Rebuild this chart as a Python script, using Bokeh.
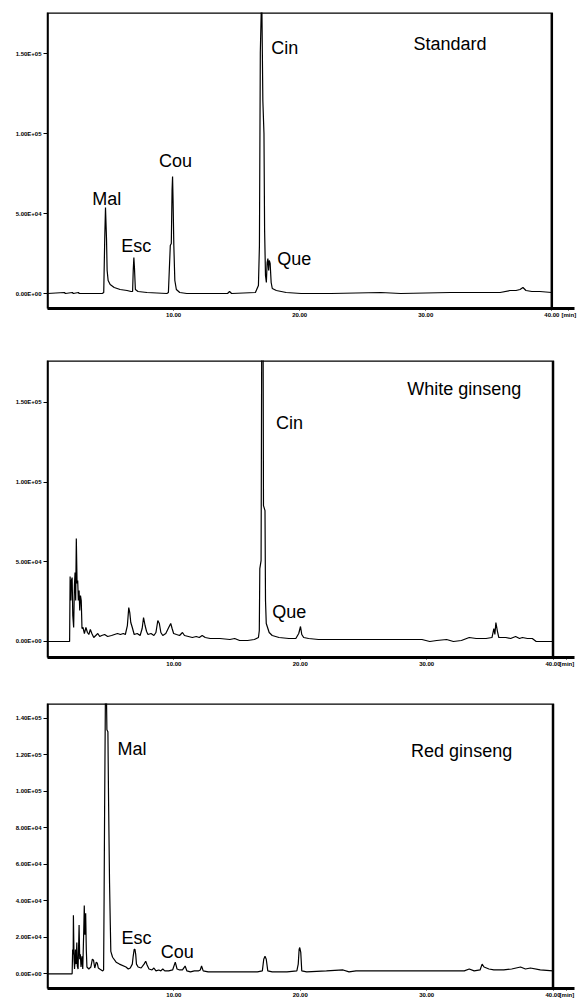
from bokeh.plotting import figure
from bokeh.layouts import column
from bokeh.models import Range1d, FixedTicker, Label, ColumnDataSource, BoxAnnotation
from bokeh.embed import file_html
from bokeh.resources import INLINE

# ---------------- data (time in min, signal) ----------------
std_time = [0.00, 1.34, 1.42, 1.97, 2.05, 2.45, 2.52, 4.34, 4.46, 4.54, 4.60, 4.68, 4.73, 4.81, 4.97,
            5.29, 5.76, 6.31, 6.63, 6.75, 6.80, 6.85, 6.90, 6.97, 7.18, 7.89, 9.47, 9.59, 9.66, 9.74,
            9.82, 9.88, 9.92, 9.96, 10.02, 10.10, 10.22, 10.49, 11.05, 14.28, 14.44, 14.60, 16.49,
            16.73, 16.81, 16.88, 16.99, 17.08, 17.17, 17.22, 17.29, 17.36, 17.42, 17.48, 17.54, 17.59,
            17.66, 17.74, 17.83, 18.15, 18.93, 20.12, 22.49, 26.43, 28.01, 31.95, 35.90, 36.69, 37.16,
            37.48, 37.71, 37.95, 38.42, 39.05, 40.00]
std_signal = [0, 625, 0, 625, 0, 625, 0, 0, 625, 34375, 53750, 34375, 14375, 8125, 5625,
              3750, 2500, 1875, 1250, 1250, 14375, 22500, 15625, 2500, 1250, 625, 0, 625, 14375, 30000,
              31250, 64375, 73125, 58125, 30000, 8125, 2500, 625, 0, 0, 1250, 0, 625,
              5000, 30000, 150625, 190000, 120625, 100000, 39375, 11250, 6875, 19375, 21875, 14375, 20625,
              18750, 6875, 3125, 1875, 625, 0, 0, 625, 0, 625, 625, 1875, 1875,
              2500, 3750, 1875, 1250, 1250, 625]

white_time = [0.00, 1.75, 1.79, 1.85, 1.89, 1.95, 2.00, 2.07, 2.13, 2.18, 2.23, 2.28, 2.34, 2.39, 2.44,
              2.50, 2.55, 2.61, 2.67, 2.73, 2.81, 2.92, 3.04, 3.16, 3.27, 3.39, 3.51, 3.66, 3.82, 3.98,
              4.13, 4.29, 4.52, 4.76, 5.07, 5.30, 5.54, 5.77, 6.00, 6.16, 6.32, 6.43, 6.51, 6.59, 6.71,
              6.86, 7.10, 7.33, 7.49, 7.60, 7.72, 7.84, 7.95, 8.19, 8.42, 8.58, 8.73, 8.85, 8.97, 9.12,
              9.36, 9.59, 9.75, 9.86, 9.98, 10.21, 10.45, 10.68, 10.84, 11.15, 11.46, 11.77, 12.01, 12.24,
              12.48, 12.87, 13.65, 14.43, 14.81, 15.20, 15.83, 16.37, 16.69, 16.76, 16.80, 16.90, 16.96,
              17.06, 17.09, 17.21, 17.25, 17.31, 17.54, 17.78, 18.32, 19.10, 19.65, 19.88, 20.02, 20.12,
              20.27, 20.66, 21.44, 23.78, 27.68, 29.63, 30.25, 30.80, 31.58, 32.12, 32.75, 33.37, 33.92,
              34.70, 35.17, 35.32, 35.40, 35.48, 35.59, 35.71, 36.26, 36.65, 37.04, 37.35, 37.58, 37.97,
              38.36, 38.67, 40.00]
white_signal = [0, 0, 40755, 25707, 38247, 40128, 16302, 8778, 35112, 43263, 25707, 64581, 36366, 38247, 25707,
                31977, 19437, 28842, 25707, 8151, 8778, 5016, 8778, 5643, 4389, 7524, 5016, 2508, 3762, 5016,
                3135, 3762, 4389, 3135, 3762, 4389, 5016, 4389, 5016, 4389, 10032, 21318, 18183, 11913, 8778,
                4389, 5016, 3762, 8151, 15048, 10032, 6270, 4389, 5016, 3762, 5643, 13167, 11286, 5643, 3762,
                5016, 8778, 11286, 8151, 5016, 4389, 3762, 5643, 3762, 3135, 2508, 3135, 2508, 3762,
                2508, 1881, 1881, 1254, 1881, 627, 627, 1254, 2508, 6897, 45771, 50787, 213807,
                188727, 85272, 82137, 25707, 11286, 5643, 3762, 2508, 1881, 1881, 5016, 9405, 4389,
                2508, 1881, 1254, 1254, 1254, 1254, 0, 627, 1254, 0, 627, 2508, 1881,
                1881, 2508, 8151, 4389, 11913, 6897, 2508, 2508, 1881, 3135, 1881, 2508, 1881,
                1881, 0, 0]

red_time = [0.00, 1.95, 1.99, 2.03, 2.05, 2.10, 2.14, 2.21, 2.26, 2.32, 2.36, 2.42, 2.50, 2.55, 2.60,
            2.65, 2.73, 2.79, 2.87, 2.91, 2.96, 3.02, 3.07, 3.12, 3.27, 3.43, 3.55, 3.64, 3.74, 3.86,
            3.94, 4.02, 4.13, 4.37, 4.44, 4.48, 4.52, 4.58, 4.62, 4.70, 4.78, 4.83, 4.91, 4.97, 5.01,
            5.15, 5.43, 5.69, 6.21, 6.39, 6.55, 6.71, 6.78, 6.86, 6.92, 6.98, 7.04, 7.17, 7.41, 7.64,
            7.77, 7.88, 8.03, 8.27, 8.42, 8.58, 8.81, 8.97, 9.12, 9.28, 9.59, 9.90, 10.11, 10.25, 10.45,
            10.68, 10.89, 11.03, 11.31, 11.62, 11.93, 12.09, 12.19, 12.32, 12.71, 14.27, 16.61, 17.00,
            17.11, 17.21, 17.31, 17.43, 17.78, 18.95, 19.73, 19.84, 19.91, 19.96, 20.04, 20.12, 20.51,
            22.07, 23.39, 23.86, 24.41, 27.53, 31.42, 32.98, 33.37, 33.76, 34.23, 34.39, 34.54, 34.93,
            35.32, 36.10, 36.73, 37.43, 37.82, 38.21, 38.99, 40.00]
red_signal = [0, 0, 13370, 10696, 32088, 8022, 2674, 13370, 5348, 17114, 4278, 2674, 26740, 8022, 10696,
              3744, 9626, 2674, 24066, 37436, 21392, 33158, 13370, 3744, 2674, 3744, 8022, 7487, 3209, 6418,
              5883, 3209, 2674, 1604, 2139, 42784, 90916, 149744, 176484, 133700, 132630, 96264, 49736, 26740, 12300,
              9092, 6418, 5348, 3744, 2674, 3209, 5348, 9626, 13370, 13370, 10696, 5348, 3744, 3209, 5348,
              6952, 4813, 2674, 2139, 3209, 1604, 2139, 1604, 2674, 1604, 1604, 2139, 6418, 2674, 2139,
              2139, 4278, 1604, 1070, 1604, 1604, 2139, 4278, 1604, 1070, 1070, 1070, 1604,
              8022, 9626, 8022, 1604, 1070, 1070, 1604, 5348, 13370, 14440, 11766, 1604, 1070,
              1604, 2139, 1070, 1604, 1604, 1604, 1604, 2674, 1604, 2139, 5348, 3744, 2674,
              2139, 2139, 2674, 3744, 2674, 3209, 2139, 1604]

x_ticks = [10, 20, 30, 40]
x_tick_labels = ["10.00", "20.00", "30.00", "40.00"]
x_unit_label = "[min]"
std_yticks = [0, 50000, 100000, 150000]
std_ytick_labels = ["0.00E+00", "5.00E+04", "1.00E+05", "1.50E+05"]
white_yticks = [0, 50000, 100000, 150000]
white_ytick_labels = ["0.00E+00", "5.00E+04", "1.00E+05", "1.50E+05"]
red_yticks = [0, 20000, 40000, 60000, 80000, 100000, 120000, 140000]
red_ytick_labels = ["0.00E+00", "2.00E+04", "4.00E+04", "6.00E+04", "8.00E+04",
                    "1.00E+05", "1.20E+05", "1.40E+05"]

std_peaks = ["Mal", "Esc", "Cou", "Cin", "Que"]
white_peaks = ["Cin", "Que"]
red_peaks = ["Mal", "Esc", "Cou"]
panel_titles = ["Standard", "White ginseng", "Red ginseng"]

# label anchor positions (left edge / baseline) in data units
std_peak_pos = [(3.55, 59375), (5.84, 30000), (8.84, 83125), (17.75, 153750), (18.22, 21875)]
white_peak_pos = [(18.09, 137313), (17.78, 18810)]
red_peak_pos = [(5.54, 123004), (5.85, 19788), (8.97, 11766)]
title_pos = [(29.03, 156250), (28.46, 158631), (28.77, 121934)]

FONT = "Liberation Sans"
T_END = 40


def make_panel(t, s, yr, yticks, ylabels, peaks, peak_pos, title, tpos,
               height, top, bottom, left, right, x_end, unit_at):
    p = figure(width=588, height=height, output_backend="svg", toolbar_location=None,
               x_range=Range1d(0, x_end), y_range=Range1d(*yr),
               min_border_top=top, min_border_bottom=bottom,
               min_border_left=left, min_border_right=right)
    p.grid.visible = False
    p.outline_line_color = None
    p.background_fill_color = "white"
    p.border_fill_color = "white"
    # chart frame: top and right edges end at the last time value
    p.add_layout(BoxAnnotation(left=0, right=T_END, bottom=yr[0], top=yr[1],
                               fill_alpha=0, line_color="black", line_alpha=1.0,
                               line_width=2.5))
    src = ColumnDataSource(dict(t=t, s=s))
    p.line("t", "s", source=src, line_color="black", line_width=1.2)

    xa = p.xaxis[0]
    xa.ticker = FixedTicker(ticks=x_ticks + [unit_at])
    ov = {float(k): v for k, v in zip(x_ticks, x_tick_labels)}
    ov[float(unit_at)] = x_unit_label
    xa.major_label_overrides = ov
    xa.axis_line_width = 3
    xa.axis_line_color = "black"
    xa.major_tick_out = 2
    xa.major_tick_in = 0
    xa.minor_tick_line_color = None
    xa.major_label_standoff = 1
    xa.major_label_text_font = FONT
    xa.major_label_text_font_size = "6px"
    xa.major_label_text_font_style = "bold"
    xa.major_label_text_color = "black"

    ya = p.yaxis[0]
    ya.ticker = FixedTicker(ticks=yticks)
    ya.major_label_overrides = {float(k): v for k, v in zip(yticks, ylabels)}
    ya.axis_line_width = 1.5
    ya.major_tick_out = 4
    ya.major_tick_in = 0
    ya.minor_tick_line_color = None
    ya.major_label_standoff = 2
    ya.major_label_text_font = FONT
    ya.major_label_text_font_size = "6px"
    ya.major_label_text_font_style = "bold"
    ya.major_label_text_color = "black"

    for name, (x, y) in zip(peaks, peak_pos):
        p.add_layout(Label(x=x, y=y, text=name, text_font=FONT, text_font_size="18px",
                           text_color="black", text_baseline="alphabetic"))
    p.add_layout(Label(x=tpos[0], y=tpos[1], text=title, text_font=FONT, text_font_size="18px",
                       text_color="black", text_baseline="alphabetic"))
    return p


p1 = make_panel(std_time, std_signal, (-9375, 175625), std_yticks, std_ytick_labels,
                std_peaks, std_peak_pos, panel_titles[0], title_pos[0],
                330, 12, 22, 45, 14, 41.8, 41.35)
p2 = make_panel(white_time, white_signal, (-10038, 176286), white_yticks, white_ytick_labels,
                white_peaks, white_peak_pos, panel_titles[1], title_pos[1],
                348, 30, 21, 45, 8, 41.7, 41.1)
p3 = make_panel(red_time, red_signal, (-8021, 148128), red_yticks, red_ytick_labels,
                red_peaks, red_peak_pos, panel_titles[2], title_pos[2],
                322, 25, 9, 47, 6, 41.7, 41.1)

layout = column(p1, p2, p3, spacing=0)
open("out.html", "w").write(file_html(layout, INLINE))
